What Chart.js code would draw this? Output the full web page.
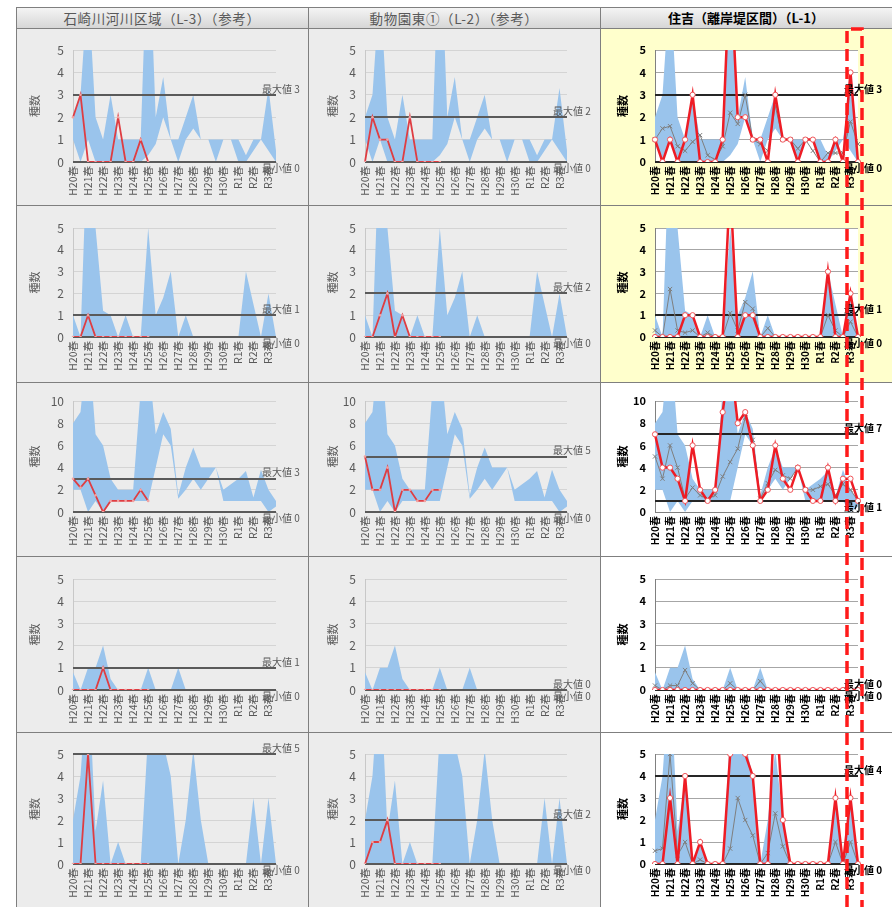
<!DOCTYPE html>
<html>
<head>
<meta charset="utf-8">
<script src="https://cdn.jsdelivr.net/npm/chart.js@4.4.0/dist/chart.umd.min.js"></script>
<style>
  body { margin: 0; width: 892px; height: 907px; overflow: hidden; position: relative; background: #fff;
         font-family: "Noto Sans CJK JP", sans-serif; }
  .cell { position: absolute; }
  .cell canvas { position: absolute; left: 0; top: 0; }
  .head { position: absolute; display: flex; align-items: center; justify-content: center;
          background: linear-gradient(#f6f6f6, #d6d6d6); font-size: 13.5px; color: #595959; letter-spacing: 0.6px; }
  .rule { position: absolute; background: #7f7f7f; }
</style>
</head>
<body>
<script>
// 調査時期 (春・秋)
const categories = ['H20春','H20秋','H21春','H21秋','H22春','H22秋','H23春','H23秋','H24春','H24秋',
  'H25春','H25秋','H26春','H26秋','H27春','H27秋','H28春','H28秋','H29春','H29秋',
  'H30春','H30秋','R1春','R1秋','R2春','R2秋','R3春','R3秋']
const tickLabels = ['H20春','','H21春','','H22春','','H23春','','H24春','',
  'H25春','','H26春','','H27春','','H28春','','H29春','',
  'H30春','','R1春','','R2春','','R3春','']

const titles = ['石崎川河川区域（L-3）（参考）', '動物園東①（L-2）（参考）', '住吉（離岸堤区間）（L-1）']

// 全地点の変動幅 (上端・下端)
const band1Upper = [2, 3, 8, 2, 1, 3, 1, 1, 1, 1, 11, 2, 3.8, 1, 1, 2, 3, 1, 1, 1, 1, 1, 1, 0.3, 1, 1, 3.3, 0.5]
const band1Lower = [1, 0, 1, 0, 0, 0, 0, 0, 0, 0, 0.3, 0.8, 2, 1, 0, 1, 1.5, 1, 1, 0, 1, 1, 0, 0, 0.5, 1, 0.5, 0]
const band2Upper = [1, 0, 10, 5, 1.2, 1, 0, 1, 0, 0, 5, 1, 1.8, 3, 0, 1, 0, 0, 0, 0, 0, 0, 0, 3, 1.5, 0, 2, 0]
const band2Lower = [0, 0, 0, 0, 0, 0, 0, 0, 0, 0, 0, 0, 0, 0, 0, 0, 0, 0, 0, 0, 0, 0, 0, 0, 0, 0, 0, 0]
const band3Upper = [8, 9, 16, 7, 6, 3, 2, 2, 2, 11, 14, 7, 9, 7.5, 1.5, 4, 5.8, 4, 4, 4, 2, 2.5, 3, 3.7, 1.3, 3.8, 2, 1]
const band3Lower = [2, 2, 0, 1, 0, 1, 1, 1, 1, 1, 1, 4, 7, 6, 1.2, 2, 3, 2, 3, 4, 1, 1, 1, 1, 1, 1, 0, 0.5]
const band4Upper = [0.8, 0, 1, 1, 2, 0.5, 0, 0, 0, 0, 1, 0, 0, 0, 1, 0, 0, 0, 0, 0, 0, 0, 0, 0, 0, 0, 0, 0]
const band4Lower = [0, 0, 0, 0, 0, 0, 0, 0, 0, 0, 0, 0, 0, 0, 0, 0, 0, 0, 0, 0, 0, 0, 0, 0, 0, 0, 0, 0]
const band5Upper = [2, 4, 9, 1.5, 3.8, 0, 1, 0, 0, 0, 6, 6, 5.5, 4, 0, 2, 5.2, 2, 0, 0, 0, 0, 0, 0, 3, 0, 3, 0]
const band5Lower = [0, 0, 0, 0, 0, 0, 0, 0, 0, 0, 0, 0, 0, 0, 0, 0, 0, 0, 0, 0, 0, 0, 0, 0, 0, 0, 0, 0]

// 石崎川河川区域 (L-3)
const l3Row1 = [2, 3, 0, 0, 0, 0, 2, 0, 0, 1, 0]
const l3Row2 = [0, 0, 1, 0, 0, 0, 0, 0, 0, 0, 0]
const l3Row3 = [3, 2.2, 3, 1.5, 0, 1, 1, 1, 1, 2, 1]
const l3Row4 = [0, 0, 0, 0, 1, 0, 0, 0, 0, 0, 0]
const l3Row5 = [0, 0, 5, 0, 0, 0, 0, 0, 0, 0, 0]
// 動物園東① (L-2)
const l2Row1 = [0, 2, 1, 1, 0, 0, 2, 0, 0, 0, 0]
const l2Row2 = [0, 0, 1, 2, 0, 1, 0, 0, 0, 0, 0]
const l2Row3 = [5, 2, 2, 4, 0, 2, 2, 1, 1, 2, 2]
const l2Row4 = [0, 0, 0, 0, 0, 0, 0, 0, 0, 0, 0]
const l2Row5 = [0, 1, 1, 2, 0, 0, 0, 0, 0, 0, 0]
// 住吉 (L-1)
const l1Row1 = [1, 0, 1, 0, 1, 3, 0, 0, 0, 1, 9, 2, 2, 1, 1, 0, 3, 1, 1, 0, 1, 1, 0, 0, 1, 0, 4, 0]
const l1Row2 = [0, 0, 0, 0, 1, 1, 0, 0, 0, 0, 7, 0, 1, 1, 0, 0, 0, 0, 0, 0, 0, 0, 0, 3, 0, 0, 2, 0]
const l1Row3 = [7, 4, 4, 3, 1, 6, 2, 1, 2, 9, 14, 8, 9, 6, 1, 2, 6, 3, 2, 4, 2, 1, 1, 4, 1, 3, 3, 1]
const l1Row4 = [0, 0, 0, 0, 0, 0, 0, 0, 0, 0, 0, 0, 0, 0, 0, 0, 0, 0, 0, 0, 0, 0, 0, 0, 0, 0, 0, 0]
const l1Row5 = [0, 0, 3, 0, 4, 0, 1, 0, 0, 0, 5, 6.5, 5, 4, 0, 0, 8, 2, 0, 0, 0, 0, 0, 0, 3, 0, 3, 0]
// 全地点平均
const avgRow1 = [1, 1.5, 1.6, 0.7, 0.5, 0.9, 1.2, 0.3, 0.1, 0.7, 2.2, 1.7, 3, 1, 0.8, 0.5, 2.5, 1, 1, 0.6, 1, 0.5, 0, 0.4, 0.4, 0.4, 1.8, 0.8]
const avgRow2 = [0.3, 0, 2.2, 0.3, 0.2, 0.3, 0, 0.2, 0, 0, 1.1, 0.3, 1.6, 1.3, 0, 0.4, 0, 0, 0, 0, 0, 0, 0, 1, 0.3, 0, 0.7, 0]
const avgRow3 = [5, 3, 6, 4, 1.2, 2.2, 1.5, 1.2, 1.5, 3.2, 4.5, 5.7, 8.5, 6.5, 1.2, 2.6, 3.8, 3.3, 3, 4, 2, 2, 2.3, 2.5, 1.5, 2.5, 2, 1]
const avgRow4 = [0.2, 0, 0.2, 0.2, 0.9, 0.3, 0, 0, 0, 0, 0.3, 0, 0, 0, 0.4, 0, 0, 0, 0, 0, 0, 0, 0, 0, 0, 0, 0, 0]
const avgRow5 = [0.6, 0.7, 5, 0.4, 1, 0, 0.2, 0, 0, 0, 0.7, 3, 2, 1.3, 0, 0.5, 2.3, 0.8, 0, 0, 0, 0, 0, 0, 1, 0, 1, 0]

// 最大値・最小値 (L-3, L-2, L-1)
const maxL3 = [3, 1, 3, 1, 5], minL3 = [0, 0, 0, 0, 0]
const maxL2 = [2, 2, 5, 0, 2], minL2 = [0, 0, 0, 0, 0]
const maxL1 = [3, 1, 7, 0, 4], minL1 = [0, 0, 1, 0, 0]

const yMax = [5, 5, 10, 5, 5]
const yStep = [1, 1, 2, 1, 1]

const bandUpper = [band1Upper, band2Upper, band3Upper, band4Upper, band5Upper]
const bandLower = [band1Lower, band2Lower, band3Lower, band4Lower, band5Lower]
const siteData = [[l3Row1, l3Row2, l3Row3, l3Row4, l3Row5], [l2Row1, l2Row2, l2Row3, l2Row4, l2Row5], [l1Row1, l1Row2, l1Row3, l1Row4, l1Row5]]
const avgData = [avgRow1, avgRow2, avgRow3, avgRow4, avgRow5]
const maxData = [maxL3, maxL2, maxL1]
const minData = [minL3, minL2, minL1]

// layout of the sheet
const cols = [
  {x0: 16, x1: 308, pl: 73, pr: 276, tx: 12},
  {x0: 308, x1: 600, pl: 365, pr: 567, tx: 18},
  {x0: 600, x1: 892, pl: 655, pr: 858, tx: 16}
]
const rows = [
  {y0: 28, y1: 205, pt: 50, pb: 162},
  {y0: 205, y1: 382, pt: 228, pb: 337},
  {y0: 382, y1: 556, pt: 401, pb: 512},
  {y0: 556, y1: 732, pt: 579, pb: 690},
  {y0: 732, y1: 907, pt: 754, pb: 864}
]
const BLUE = '#9ac4ec'
const FONT = '"Noto Sans CJK JP", sans-serif'
Chart.defaults.font.family = FONT

const plotBg = {
  id: 'plotBg',
  beforeDraw(chart, args, opts) {
    if (!opts.color) return
    const a = chart.chartArea
    chart.ctx.save()
    chart.ctx.fillStyle = opts.color
    chart.ctx.fillRect(a.left, a.top, a.right - a.left, a.bottom - a.top)
    chart.ctx.restore()
  }
}

// 最大値・最小値の横線とラベル
const refLines = {
  id: 'refLines',
  afterDatasetDraw(chart, args, opts) {
    if (args.index !== 2) return
    const {ctx, chartArea: a, scales: {y}} = chart
    ctx.save()
    ctx.strokeStyle = opts.color
    ctx.lineWidth = 2
    ;[opts.max, opts.min].forEach(v => {
      const py = Math.round(y.getPixelForValue(v))
      ctx.beginPath()
      ctx.moveTo(a.left, py)
      ctx.lineTo(a.right, py)
      ctx.stroke()
    })
    ctx.restore()
  },
  afterDatasetsDraw(chart, args, opts) {
    const {ctx, chartArea: a, scales: {y}} = chart
    ctx.save()
    ctx.fillStyle = opts.textColor
    ctx.font = (opts.bold ? 'bold ' : '') + '10px ' + FONT
    ctx.textAlign = 'left'
    ctx.textBaseline = 'bottom'
    ctx.fillText('最大値 ' + opts.max, a.right - 14, y.getPixelForValue(opts.max) - 1)
    ctx.textBaseline = 'top'
    ctx.fillText('最小値 ' + opts.min, a.right - 14, y.getPixelForValue(opts.min) + 1)
    ctx.restore()
  }
}

function makePanel(r, c) {
  const col = cols[c], row = rows[r]
  const main = c === 2
  const div = document.createElement('div')
  div.className = 'cell'
  div.style.left = col.x0 + 'px'
  div.style.top = row.y0 + 'px'
  div.style.width = (col.x1 - col.x0) + 'px'
  div.style.height = (row.y1 - row.y0) + 'px'
  div.style.background = main ? (r < 2 ? '#ffffcc' : '#ffffff') : '#ececec'
  const cv = document.createElement('canvas')
  cv.width = col.x1 - col.x0
  cv.height = row.y1 - row.y0
  div.appendChild(cv)
  document.body.appendChild(div)

  const txt = main ? '#000000' : '#595959'
  const tickFont = {size: main ? 10 : 10.5, weight: main ? 'bold' : 'normal'}

  new Chart(cv, {
    type: 'line',
    data: {
      labels: categories,
      datasets: [
        {
          data: siteData[c][r],
          borderColor: main ? '#ee1c25' : '#df3d42',
          borderWidth: main ? 2.5 : 1.8,
          pointRadius: main ? 2.6 : 1.3,
          pointBorderWidth: main ? 1 : 0,
          pointBorderColor: main ? '#f0555a' : '#f2a3a3',
          pointBackgroundColor: main ? '#ffffff' : '#f2a3a3',
          fill: false
        },
        {
          data: main ? avgData[r] : [],
          borderColor: '#7f7f7f',
          borderWidth: 1,
          pointStyle: 'crossRot',
          pointRadius: 3,
          pointBorderColor: '#7f7f7f',
          pointBorderWidth: 1,
          fill: false
        },
        {
          data: bandUpper[r],
          borderColor: 'rgba(0,0,0,0)',
          borderWidth: 0,
          pointRadius: 0,
          backgroundColor: BLUE,
          fill: '+1'
        },
        {
          data: bandLower[r],
          borderColor: 'rgba(0,0,0,0)',
          borderWidth: 0,
          pointRadius: 0,
          fill: false
        }
      ]
    },
    options: {
      responsive: false,
      animation: false,
      events: [],
      layout: {padding: {top: row.pt - row.y0, right: col.x1 - col.pr, left: 0, bottom: 0}},
      plugins: {
        legend: {display: false},
        tooltip: {enabled: false},
        plotBg: {color: main ? '#ffffff' : null},
        refLines: {max: maxData[c][r], min: minData[c][r], color: main ? '#262626' : '#5a5a5a', textColor: txt, bold: main}
      },
      scales: {
        x: {
          offset: false,
          grid: {display: false, drawTicks: false},
          border: {color: main ? '#808080' : '#bfbfbf'},
          ticks: {
            autoSkip: false, minRotation: 90, maxRotation: 90, padding: 4,
            color: txt, font: tickFont,
            callback: (v, i) => tickLabels[i]
          },
          afterFit: s => { s.height = row.y1 - row.pb; s.paddingLeft = 0; s.paddingRight = 0 }
        },
        y: {
          min: 0, max: yMax[r],
          grid: {color: main ? '#a6a6a6' : '#d4d4d4', drawTicks: false},
          border: {color: main ? '#808080' : '#c8c8c8'},
          ticks: {stepSize: yStep[r], padding: 9, color: txt, font: {size: main ? 11 : 12, weight: main ? 'bold' : 'normal'}},
          title: {display: true, text: '種数', color: txt, font: {size: 11, weight: main ? 'bold' : 'normal'}, padding: {top: col.tx, bottom: 0}},
          afterFit: s => { s.width = col.pl - col.x0 }
        }
      }
    },
    plugins: [plotBg, refLines]
  })
}

// header
cols.forEach((col, c) => {
  const h = document.createElement('div')
  h.className = 'head'
  h.style.left = col.x0 + 'px'
  h.style.top = '7px'
  h.style.width = (col.x1 - col.x0) + 'px'
  h.style.height = '21px'
  h.textContent = titles[c]
  if (c === 2) { h.style.color = '#000'; h.style.fontWeight = 'bold'; h.style.fontSize = '13px'; h.style.letterSpacing = '0' }
  document.body.appendChild(h)
})

for (let r = 0; r < rows.length; r++) {
  for (let c = 0; c < cols.length; c++) makePanel(r, c)
}

// cell borders
function rule(x, y, w, h) {
  const d = document.createElement('div')
  d.className = 'rule'
  d.style.left = x + 'px'; d.style.top = y + 'px'
  d.style.width = w + 'px'; d.style.height = h + 'px'
  document.body.appendChild(d)
}
;[16, 308, 600].forEach(x => rule(x, 7, 1, 900))
;[7, 28, 205, 382, 556, 732].forEach(y => rule(16, y, 876, 1))
</script>
<svg width="892" height="907" style="position:absolute;left:0;top:0;pointer-events:none">
  <polyline points="847,907 847,29 862,29 862,907" fill="none" stroke="#ff1a1a" stroke-width="3.5" stroke-dasharray="12,6"/>
</svg>
</body>
</html>
